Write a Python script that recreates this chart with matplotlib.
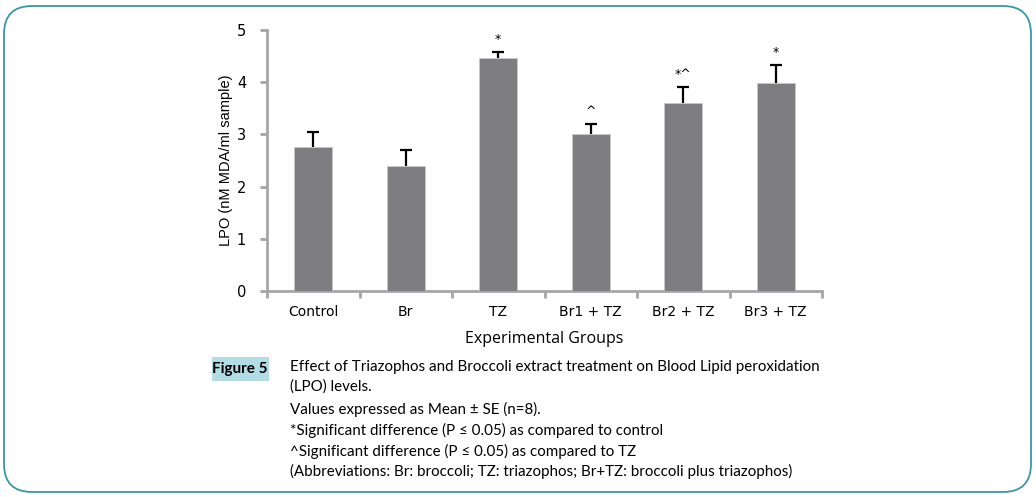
import matplotlib
matplotlib.use('Agg')
import matplotlib.pyplot as plt
from matplotlib.patches import FancyBboxPatch, Rectangle

# Data
groups = ['Control', 'Br', 'TZ', 'Br1 + TZ', 'Br2 + TZ', 'Br3 + TZ']
lpo_mean = [2.75, 2.40, 4.47, 3.01, 3.61, 3.99]
lpo_se = [0.30, 0.31, 0.11, 0.19, 0.30, 0.33]
marks = ['', '', '*', '^', '*^', '*']
y_ticks = [0, 1, 2, 3, 4, 5]

caption_lines = [
    'Effect of Triazophos and Broccoli extract treatment on Blood Lipid peroxidation',
    '(LPO) levels.',
    'Values expressed as Mean \u00b1 SE (n=8).',
    '*Significant difference (P \u2264 0.05) as compared to control',
    '^Significant difference (P \u2264 0.05) as compared to TZ',
    '(Abbreviations: Br: broccoli; TZ: triazophos; Br+TZ: broccoli plus triazophos)',
]

bar_color = '#7E7E82'
axis_color = '#A6A6A6'

fig = plt.figure(figsize=(10.36, 4.97), dpi=100)

# Rounded border around the whole panel
border = FancyBboxPatch((4 / 1036, 5 / 497), 1027 / 1036, 486 / 497,
                        boxstyle='round,pad=0,rounding_size=0.027',
                        transform=fig.transFigure, fill=False,
                        edgecolor='#3A97A6', linewidth=1.3,
                        mutation_aspect=1036 / 497)
fig.patches.append(border)

ax = fig.add_axes([267 / 1036, 1 - 291 / 497, 555 / 1036, 261 / 497])
x = range(len(groups))
ax.bar(x, lpo_mean, width=0.41, color=bar_color, edgecolor='#C8C8C8', linewidth=0.6, zorder=3)
# upper-only error bars: hide the lower caps
eb = ax.errorbar(x, lpo_mean, yerr=[[0] * len(groups), lpo_se], fmt='none',
                 ecolor='black', elinewidth=1.6, capsize=4.5, capthick=1.6, zorder=2)
eb[1][0].set_visible(False)

for i, m in enumerate(marks):
    if m:
        ax.text(i, lpo_mean[i] + lpo_se[i] + 0.12, m, ha='center', va='bottom',
                fontsize=9, family='DejaVu Sans')

ax.set_xlim(-0.5, 5.5)
ax.set_ylim(0, 5)
ax.set_yticks(y_ticks)
ax.set_xticks(list(x))
ax.set_xticklabels(groups, fontsize=10, family='DejaVu Sans')
ax.set_xticks([i + 0.5 for i in range(-1, len(groups))], minor=True)
ax.tick_params(axis='x', which='major', length=0, pad=10)
ax.tick_params(axis='x', which='minor', length=5, width=2, color=axis_color, direction='out')
ax.tick_params(axis='y', length=5, width=2, color=axis_color, labelsize=10.5, pad=10)
for lab in ax.get_yticklabels():
    lab.set_family('DejaVu Sans')

for s in ['top', 'right']:
    ax.spines[s].set_visible(False)
for s in ['left', 'bottom']:
    ax.spines[s].set_color(axis_color)
    ax.spines[s].set_linewidth(2)

ax.set_ylabel('LPO (nM MDA/ml sample)', fontsize=10.5, family='Liberation Sans', labelpad=3)
ax.set_xlabel('Experimental Groups', fontsize=11.5, family='Open Sans', labelpad=9)

# Figure label box
fig.patches.append(Rectangle((212 / 1036, 1 - 381 / 497), 57 / 1036, 24 / 497,
                             transform=fig.transFigure, facecolor='#B3DDE5',
                             edgecolor='none'))
fig.text(240 / 1036, 1 - 369 / 497, 'Figure 5', ha='center', va='center',
         fontsize=11, fontweight='bold', family='Lato')

line_y = [367, 387, 409, 430, 451, 471]
for yy, line in zip(line_y, caption_lines):
    fig.text(290 / 1036, 1 - yy / 497, line, ha='left', va='center',
             fontsize=10.9, family='Lato')

plt.savefig('out.png', dpi=100)
